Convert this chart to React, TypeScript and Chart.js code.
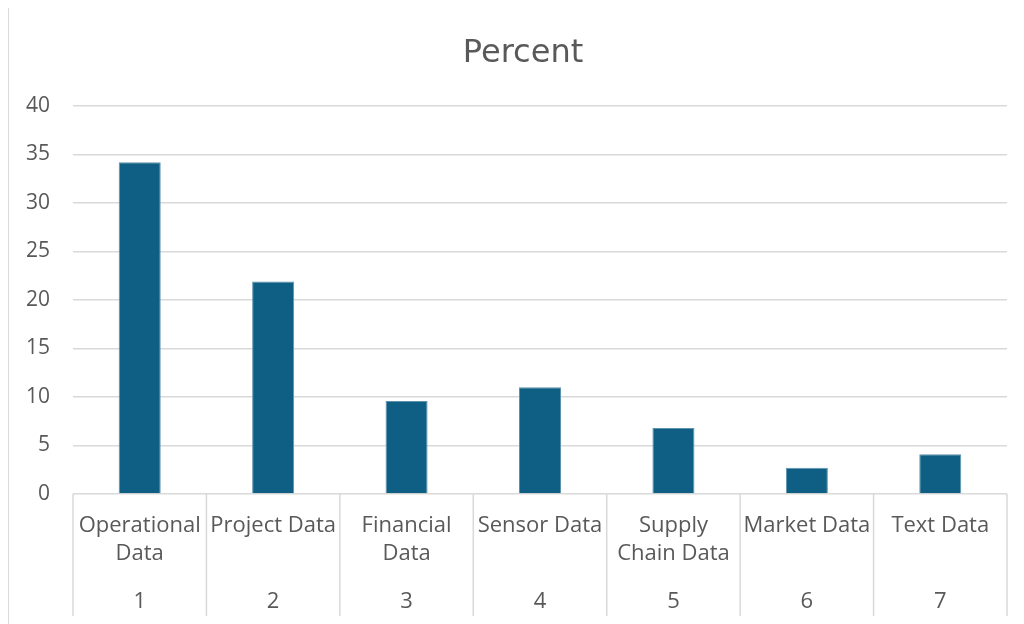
import React, { useEffect, useRef } from "react";
import { Chart, registerables } from "chart.js";

Chart.register(...registerables);

const categories: string[][] = [
  ["Operational", "Data"],
  ["Project Data"],
  ["Financial", "Data"],
  ["Sensor Data"],
  ["Supply", "Chain Data"],
  ["Market Data"],
  ["Text Data"],
];
const indexLabels: string[] = ["1", "2", "3", "4", "5", "6", "7"];
const percentValues: number[] = [34.2, 21.9, 9.6, 11.0, 6.8, 2.7, 4.1];
const chartTitle = "Percent";

const TEXT = "#595959";
const GRID = "#d9d9d9";

const separatorPlugin = {
  id: "categorySeparators",
  afterDraw(chart: any) {
    const x = chart.scales.x;
    const x2 = chart.scales.x2;
    if (!x || !x2) return;
    const n = x.ticks.length;
    const ctx = chart.ctx;
    ctx.save();
    ctx.strokeStyle = GRID;
    ctx.lineWidth = 1.5;
    for (let i = 0; i <= n; i++) {
      const px = x.getPixelForValue(i - 0.5);
      ctx.beginPath();
      ctx.moveTo(px, chart.chartArea.bottom);
      ctx.lineTo(px, x2.bottom);
      ctx.stroke();
    }
    ctx.restore();
  },
};

export default function App() {
  const ref = useRef<HTMLCanvasElement | null>(null);
  useEffect(() => {
    if (!ref.current) return;
    const chart = new Chart(ref.current, {
      type: "bar",
      data: {
        labels: categories,
        datasets: [
          {
            label: chartTitle,
            data: percentValues,
            backgroundColor: "#0F5F84",
            borderColor: "#5E93AD",
            borderWidth: 1,
            barPercentage: 0.315,
            categoryPercentage: 1,
            xAxisID: "x",
            yAxisID: "y",
          },
        ],
      },
      options: {
        animation: false,
        responsive: false,
        devicePixelRatio: 1,
        layout: { padding: { top: 0, left: 13, right: 0, bottom: 8 } },
        plugins: {
          legend: { display: false },
          tooltip: { enabled: false },
          title: {
            display: true,
            text: chartTitle,
            color: TEXT,
            font: { family: "'DejaVu Sans', sans-serif", size: 32, weight: "normal", lineHeight: 1.2 },
            padding: { top: 26, bottom: 33.6 },
          },
        },
        scales: {
          x: {
            type: "category",
            position: "bottom",
            weight: 1,
            grid: { display: false },
            border: { display: false },
            ticks: {
              color: TEXT,
              font: { family: "'Open Sans', sans-serif", size: 22, lineHeight: 28 / 22 },
              padding: 10,
              maxRotation: 0,
              autoSkip: false,
            },
            afterFit: (s: any) => { s.height = 74; },
          },
          x2: {
            type: "category",
            position: "bottom",
            weight: 2,
            labels: indexLabels,
            offset: true,
            grid: { display: false },
            border: { display: false },
            ticks: {
              color: TEXT,
              font: { family: "'Open Sans', sans-serif", size: 22, lineHeight: 28 / 22 },
              padding: 12,
              maxRotation: 0,
              autoSkip: false,
            },
            afterFit: (s: any) => { s.height = 48; },
          },
          y: {
            min: 0,
            max: 40,
            border: { display: false },
            grid: { color: GRID, lineWidth: 1.5, drawTicks: false },
            ticks: {
              stepSize: 5,
              color: TEXT,
              font: { family: "'Open Sans', sans-serif", size: 21 },
              padding: 23,
            },
            afterFit: (s: any) => { s.width = 51; },
          },
          yRight: {
            position: "right",
            min: 0,
            max: 40,
            border: { display: false },
            grid: { display: false },
            ticks: { display: false },
            afterFit: (s: any) => { s.width = 17; },
          },
        },
      },
      plugins: [separatorPlugin],
    } as any);
    return () => chart.destroy();
  }, []);

  return (
    <div
      style={{
        marginTop: -1,
        width: 1016,
        height: 617,
        borderLeft: `1px solid ${GRID}`,
        borderTop: `1px solid ${GRID}`,
        boxSizing: "border-box",
        overflow: "hidden",
      }}
    >
      <canvas ref={ref} width={1015} height={616} style={{ display: "block" }} />
    </div>
  );
}
